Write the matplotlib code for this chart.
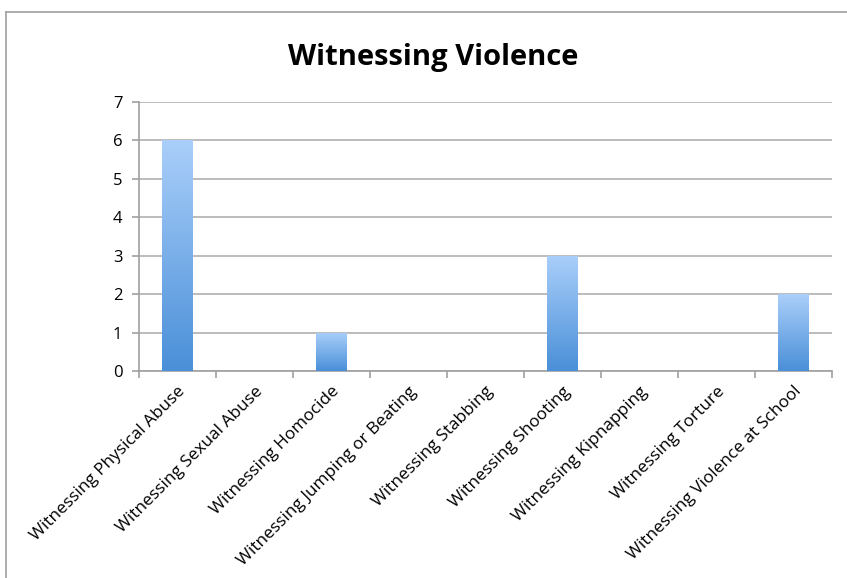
import matplotlib.pyplot as plt
import numpy as np
from matplotlib.lines import Line2D
from matplotlib.colors import LinearSegmentedColormap

categories = ["Witnessing Physical Abuse", "Witnessing Sexual Abuse", "Witnessing Homocide",
              "Witnessing Jumping or Beating", "Witnessing Stabbing", "Witnessing Shooting",
              "Witnessing Kipnapping", "Witnessing Torture", "Witnessing Violence at School"]
values = [6, 0, 1, 0, 0, 3, 0, 0, 2]
yticks = [0, 1, 2, 3, 4, 5, 6, 7]

plt.rcParams['font.family'] = ['Open Sans', 'DejaVu Sans']

fig = plt.figure(figsize=(8.47, 5.78), dpi=100)
ax = fig.add_axes([139/847, 1 - 371/578, (832 - 139)/847, (371 - 102)/578])

# outer frame of the chart (only top and left visible)
fig.add_artist(Line2D([6/847, 1], [1 - 12/578, 1 - 12/578], transform=fig.transFigure, color='#a0a0a0', lw=1.2))
fig.add_artist(Line2D([6/847, 6/847], [0, 1 - 12/578], transform=fig.transFigure, color='#a0a0a0', lw=1.2))

x = np.arange(len(categories))
width = 0.4
bars = ax.bar(x, values, width=width, color='none', edgecolor='none', zorder=3)

cmap = LinearSegmentedColormap.from_list('grad', ['#4a8fd8', '#aacffa'])
grad = np.linspace(0, 1, 256).reshape(-1, 1)
for b, v in zip(bars, values):
    if v <= 0:
        continue
    x0 = b.get_x()
    im = ax.imshow(grad, cmap=cmap, origin='lower', aspect='auto',
                   extent=[x0, x0 + b.get_width(), 0, v], zorder=3)
    im.set_clip_path(b)

ax.set_xlim(-0.5, len(categories) - 0.5)
ax.set_ylim(0, 7)
ax.set_yticks(yticks)
ax.set_yticklabels([str(t) for t in yticks], fontsize=12)
ax.yaxis.grid(True, color='#b0b0b0', lw=1.2, zorder=0)
ax.set_axisbelow(True)

ax.set_xticks(x)
ax.set_xticklabels(categories, rotation=45, ha='right', rotation_mode='anchor', fontsize=12.4)
ax.set_xticks(np.arange(len(categories) + 1) - 0.5, minor=True)
ax.tick_params(axis='x', which='major', length=0, pad=9)
ax.tick_params(axis='x', which='minor', length=5, color='#a0a0a0', width=1.2)
ax.tick_params(axis='y', length=5, color='#a0a0a0', width=1.2, pad=7)

for s in ['top', 'right']:
    ax.spines[s].set_visible(False)
for s in ['left', 'bottom']:
    ax.spines[s].set_color('#a0a0a0')
    ax.spines[s].set_linewidth(1.2)

fig.text(433/847, 1 - 57/578, "Witnessing Violence", ha='center', va='center',
         fontsize=21, fontweight='bold')

fig.savefig('out.png', dpi=100)
